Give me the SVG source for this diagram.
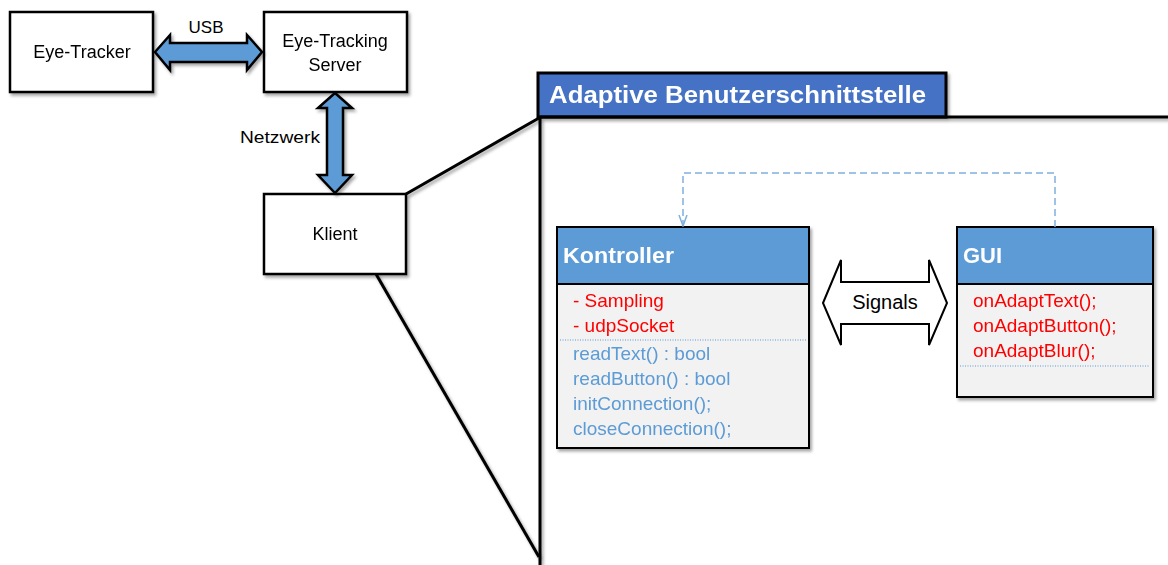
<svg xmlns="http://www.w3.org/2000/svg" width="1168" height="565" viewBox="0 0 1168 565">
  <style>
    text { font-family: "Liberation Sans", Arial, sans-serif; }
    .box { fill: #ffffff; stroke: #000000; stroke-width: 2.5; }
    .lbl { font-size: 18px; fill: #000000; text-anchor: middle; }
    .pipe { fill: #5b9bd5; stroke: #000000; stroke-width: 2.5; stroke-linejoin: miter; }
    .zoom { fill: none; stroke: #000000; stroke-width: 3; }
    .cls-head { fill: #5b9bd5; stroke: #000000; stroke-width: 2; }
    .cls-body { fill: #f2f2f2; stroke: #000000; stroke-width: 2; }
    .cls-title { font-size: 22px; font-weight: bold; fill: #ffffff; }
    .attr { font-size: 19px; fill: #ff0000; }
    .meth { font-size: 19px; fill: #5b9bd5; }
    .sep { stroke: #5b9bd5; stroke-width: 1; stroke-dasharray: 1 1.5; }
    .dep { fill: none; stroke: #7fb0de; stroke-width: 1.5; stroke-dasharray: 7 4; }
  </style>
  <defs>
    <filter id="shadow" x="-10%" y="-10%" width="130%" height="130%">
      <feDropShadow dx="2" dy="2.5" stdDeviation="1.5" flood-color="#000000" flood-opacity="0.35"/>
    </filter>
    <marker id="openV" viewBox="0 0 12 10" refX="11" refY="5" markerWidth="12" markerHeight="10" markerUnits="userSpaceOnUse" orient="auto">
      <path d="M0 1 L11 5 L0 9" fill="none" stroke="#7fb0de" stroke-width="1.5"/>
    </marker>
  </defs>

  <!-- hardware chain -->
  <g id="eye-tracker" filter="url(#shadow)">
    <rect class="box" x="10" y="12" width="143" height="80"/>
    <text class="lbl" x="82" y="58">Eye-Tracker</text>
  </g>
  <g id="eye-tracking-server" filter="url(#shadow)">
    <rect class="box" x="264" y="12" width="143" height="80"/>
    <text class="lbl" x="335" y="47">Eye-Tracking</text>
    <text class="lbl" x="335" y="71">Server</text>
  </g>
  <g id="klient" filter="url(#shadow)">
    <rect class="box" x="264" y="194" width="142" height="80"/>
    <text class="lbl" x="335" y="240">Klient</text>
  </g>

  <!-- magnified interface frame -->
  <g id="adaptive-ui" filter="url(#shadow)">
    <rect x="538" y="73" width="408" height="44" fill="#4472c4" stroke="#000000" stroke-width="3"/>
    <text x="549" y="103" font-size="23" font-weight="bold" fill="#ffffff" textLength="377" lengthAdjust="spacingAndGlyphs">Adaptive Benutzerschnittstelle</text>
    <path class="zoom" d="M540 117 V565 M540 117 H1168"/>
  </g>

  <g id="kontroller" filter="url(#shadow)">
    <rect class="cls-body" x="557" y="227" width="252" height="221"/>
    <rect class="cls-head" x="557" y="227" width="252" height="57"/>
    <text class="cls-title" x="563" y="263" textLength="111" lengthAdjust="spacingAndGlyphs">Kontroller</text>
    <text class="attr" x="573" y="307">- Sampling</text>
    <text class="attr" x="573" y="332">- udpSocket</text>
    <line class="sep" x1="560" y1="340" x2="806" y2="340"/>
    <text class="meth" x="573" y="360">readText() : bool</text>
    <text class="meth" x="573" y="385">readButton() : bool</text>
    <text class="meth" x="573" y="410">initConnection();</text>
    <text class="meth" x="573" y="435">closeConnection();</text>
  </g>

  <g id="gui" filter="url(#shadow)">
    <rect class="cls-body" x="957" y="227" width="196" height="170"/>
    <rect class="cls-head" x="957" y="227" width="196" height="57"/>
    <text class="cls-title" x="963" y="263">GUI</text>
    <text class="attr" x="973" y="307">onAdaptText();</text>
    <text class="attr" x="973" y="332">onAdaptButton();</text>
    <text class="attr" x="973" y="357">onAdaptBlur();</text>
    <line class="sep" x1="960" y1="366" x2="1150" y2="366"/>
  </g>

  <!-- connectors -->
  <g id="connectors">
    <g filter="url(#shadow)">
      <polygon class="pipe" points="155,52 170,35 170,43 247,43 247,35 262,52 247,70 247,62 170,62 170,70"/>
      <polygon class="pipe" points="335,93 352,108 343,108 343,175 352,175 335,193 318,175 327,175 327,108 318,108"/>
      <line class="zoom" x1="406" y1="194" x2="539" y2="118"/>
      <line class="zoom" x1="376" y1="274" x2="539" y2="557"/>
    </g>
    <text x="206" y="33" font-size="17" text-anchor="middle" fill="#000000">USB</text>
    <text x="280" y="143" font-size="17" text-anchor="middle" fill="#000000" textLength="80" lengthAdjust="spacingAndGlyphs">Netzwerk</text>

    <path class="dep" d="M1055 227 V173 H683 V226" marker-end="url(#openV)"/>

    <g id="signals">
      <polygon points="823,303 841,260 841,282 929,282 929,260 947,303 929,345 929,324 841,324 841,345" fill="#ffffff" stroke="#000000" stroke-width="2"/>
      <text x="885" y="309" font-size="20" text-anchor="middle" fill="#000000">Signals</text>
    </g>
  </g>
</svg>
